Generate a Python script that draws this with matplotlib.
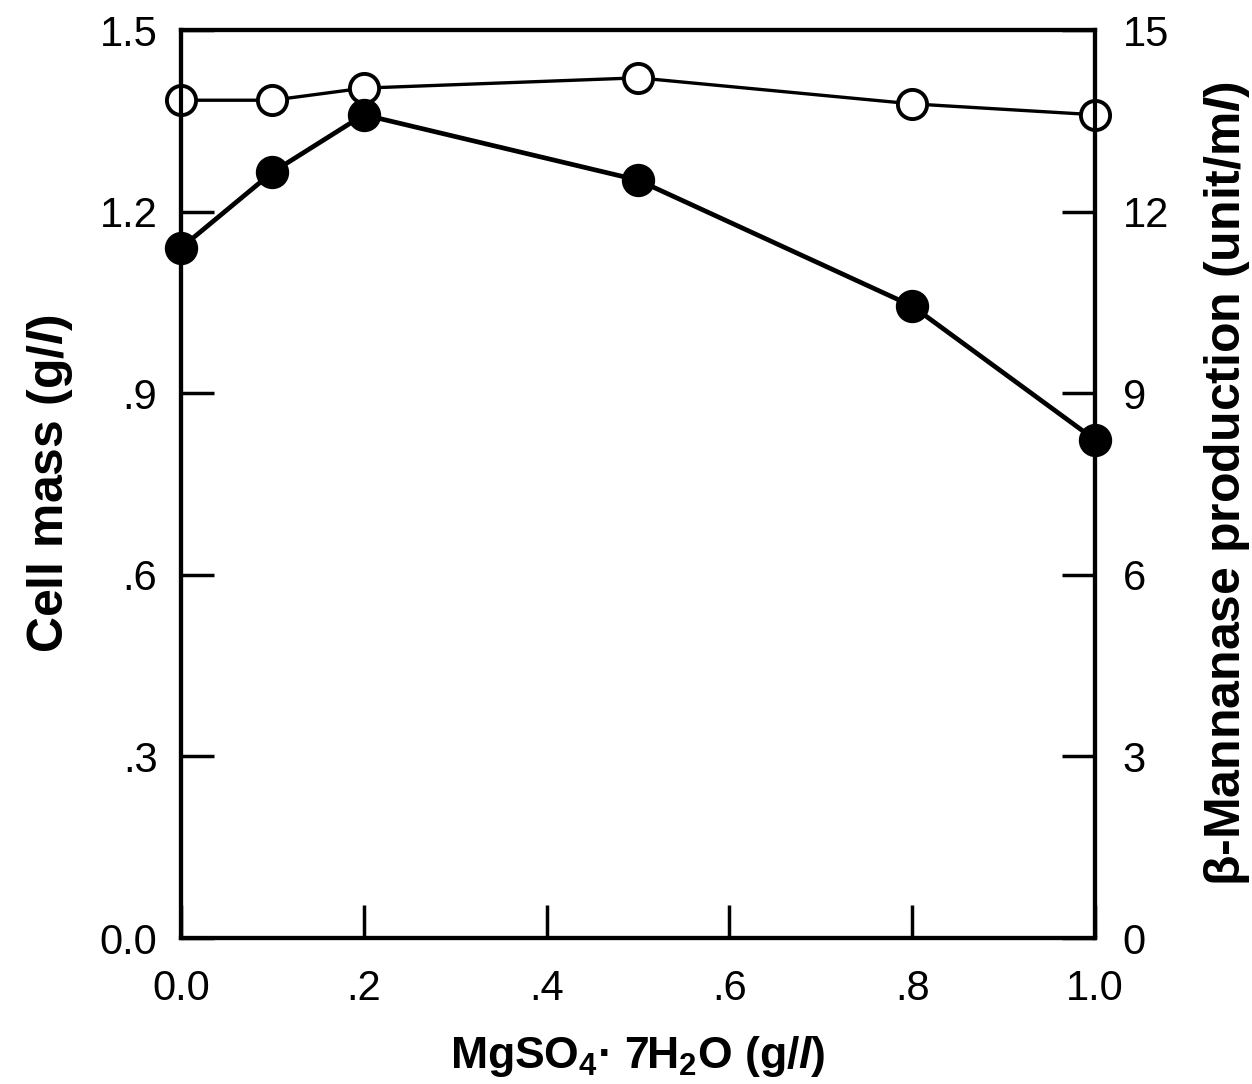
import matplotlib
matplotlib.use("Agg")
import matplotlib.pyplot as plt

plt.rcParams['font.family'] = ['Liberation Sans', 'DejaVu Sans']
plt.rcParams['mathtext.fontset'] = 'custom'
plt.rcParams['mathtext.rm'] = 'Liberation Sans:bold'
plt.rcParams['mathtext.it'] = 'Liberation Sans:bold:italic'
plt.rcParams['mathtext.default'] = 'rm'

# data
mgso4 = [0.0, 0.1, 0.2, 0.5, 0.8, 1.0]
cell_mass = [1.384, 1.384, 1.404, 1.421, 1.378, 1.360]      # open circles, left axis
mannanase = [11.40, 12.65, 13.60, 12.52, 10.44, 8.23]       # filled circles, right axis

xticks = [0.0, 0.2, 0.4, 0.6, 0.8, 1.0]
xlabels = ["0.0", ".2", ".4", ".6", ".8", "1.0"]
lticks = [0.0, 0.3, 0.6, 0.9, 1.2, 1.5]
llabels = ["0.0", ".3", ".6", ".9", "1.2", "1.5"]
rticks = [0, 3, 6, 9, 12, 15]

fig = plt.figure(figsize=(12.52, 10.84), dpi=100)
ax1 = fig.add_axes([181/1252, 1 - 938/1084, (1095-181)/1252, (938-30)/1084])
ax2 = ax1.twinx()

ax1.plot(mgso4, cell_mass, color='black', lw=2.4, marker='o', ms=21,
         mfc='white', mec='black', mew=2.8, clip_on=False, zorder=3)
ax2.plot(mgso4, mannanase, color='black', lw=3.4, marker='o', ms=23,
         mfc='black', mec='black', clip_on=False, zorder=3)

ax1.set_xlim(0, 1.0)
ax1.set_ylim(0, 1.5)
ax2.set_ylim(0, 15)

ax1.set_xticks(xticks)
ax1.set_xticklabels(xlabels)
ax1.set_yticks(lticks)
ax1.set_yticklabels(llabels)
ax2.set_yticks(rticks)

for ax in (ax1, ax2):
    for s in ax.spines.values():
        s.set_linewidth(3)
    ax.tick_params(direction='in', length=24, width=2.5, labelsize=30)
ax1.tick_params(axis='y', pad=17)
ax1.tick_params(axis='x', pad=22)
ax2.tick_params(axis='y', pad=20)

ax1.set_xlabel("MgSO$_4$· 7H$_2$O (g/$\\it{l}$)", fontsize=32, fontweight='bold', labelpad=18)
ax1.set_ylabel("Cell mass (g/$\\it{l}$)", fontsize=36, fontweight='bold', labelpad=18)
ax2.set_ylabel("β-Mannanase production (unit/m$\\it{l}$)", fontsize=36, fontweight='bold',
               labelpad=24)

fig.savefig("out.png", dpi=100)
